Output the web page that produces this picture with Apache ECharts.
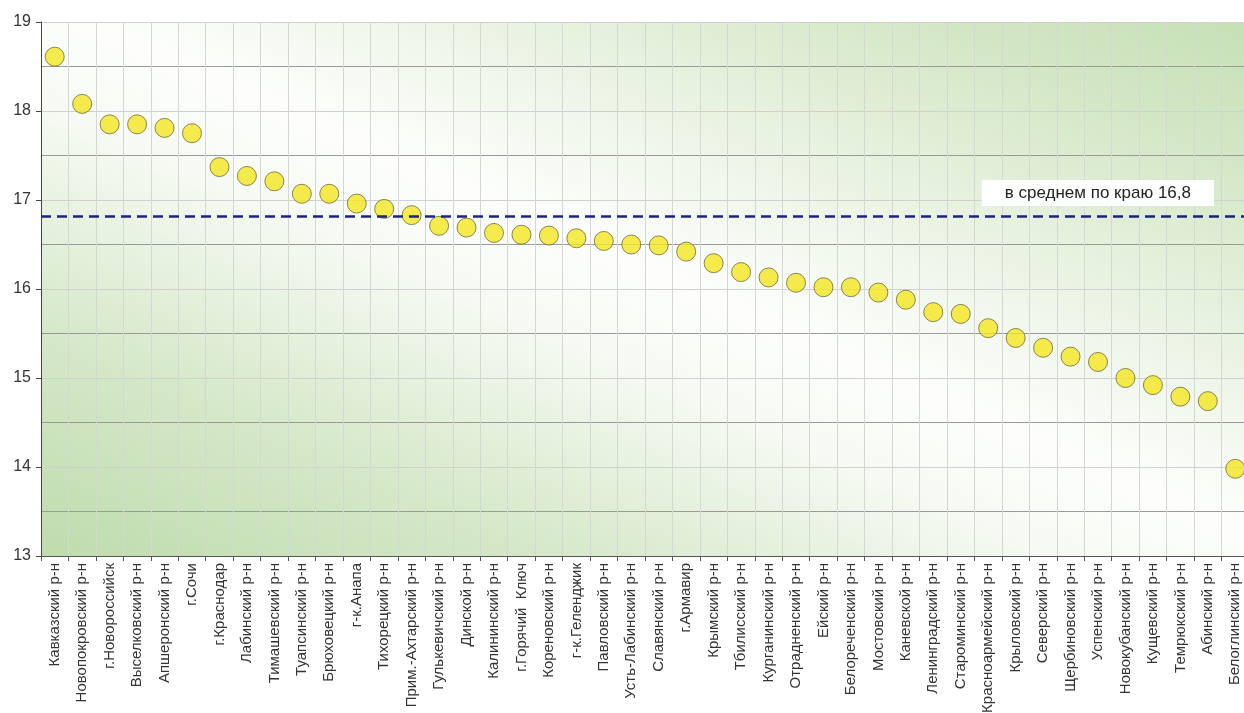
<!DOCTYPE html>
<html>
<head>
<meta charset="utf-8">
<script src="https://cdn.jsdelivr.net/npm/echarts@6/dist/echarts.min.js"></script>
<style>
html,body{margin:0;padding:0;background:#fff;}
#chart{width:1244px;height:713px;}
</style>
</head>
<body>
<div id="chart"></div>
<script>
const categories = [
  'Кавказский р-н','Новопокровский р-н','г.Новороссийск','Выселковский р-н','Апшеронский р-н','г.Сочи',
  'г.Краснодар','Лабинский р-н','Тимашевский р-н','Туапсинский р-н','Брюховецкий р-н','г-к.Анапа',
  'Тихорецкий р-н','Прим.-Ахтарский р-н','Гулькевичский р-н','Динской р-н','Калининский р-н','г.Горячий  Ключ',
  'Кореновский р-н','г-к.Геленджик','Павловский р-н','Усть-Лабинский р-н','Славянский р-н','г.Армавир',
  'Крымский р-н','Тбилисский р-н','Курганинский р-н','Отрадненский р-н','Ейский р-н','Белореченский р-н',
  'Мостовский р-н','Каневской р-н','Ленинградский р-н','Староминский р-н','Красноармейский р-н','Крыловский р-н',
  'Северский р-н','Щербиновский р-н','Успенский р-н','Новокубанский р-н','Кущевский р-н','Темрюкский р-н',
  'Абинский р-н','Белоглинский р-н'
];
const values = [
  18.61, 18.08, 17.85, 17.85, 17.81, 17.75,
  17.37, 17.27, 17.21, 17.07, 17.07, 16.96,
  16.90, 16.83, 16.71, 16.69, 16.63, 16.61,
  16.60, 16.57, 16.54, 16.50, 16.49, 16.42,
  16.29, 16.19, 16.13, 16.07, 16.02, 16.02,
  15.96, 15.88, 15.74, 15.72, 15.56, 15.45,
  15.34, 15.24, 15.18, 15.00, 14.92, 14.79,
  14.74, 13.98
];
const meanValue = 16.82;
const meanLabel = 'в среднем по краю 16,8';
const yMin = 13, yMax = 19;

const chart = echarts.init(document.getElementById('chart'), null, {renderer: 'canvas'});
chart.setOption({
  animation: false,
  backgroundColor: '#ffffff',
  grid: {
    left: 41, top: 22, width: 1208, bottom: 157,
    outerBoundsMode: 'none',
    containLabel: false,
    show: true, borderWidth: 0,
    backgroundColor: {
      type: 'linear', global: true,
      x: 449, y: 735, x2: 843, y2: -157,
      colorStops: [
        {offset: 0, color: '#bfdcad'},
        {offset: 0.22, color: '#d6e9ca'},
        {offset: 0.42, color: '#f6faf3'},
        {offset: 0.52, color: '#fdfefc'},
        {offset: 0.68, color: '#ebf4e4'},
        {offset: 0.85, color: '#d5e8c8'},
        {offset: 1, color: '#c6e0b5'}
      ]
    }
  },
  xAxis: {
    type: 'category',
    data: categories,
    boundaryGap: true,
    axisLine: {lineStyle: {color: '#555', width: 1}},
    axisTick: {show: true, length: 5, lineStyle: {color: '#555'}},
    axisLabel: {interval: 0, rotate: 90, fontSize: 15, color: '#333', margin: 7, fontFamily: 'Liberation Sans, Arial, sans-serif'},
    splitLine: {show: true, lineStyle: {color: '#d6d6d6', width: 1}}
  },
  yAxis: [{
    type: 'value', min: yMin, max: yMax, interval: 0.5,
    axisLine: {show: false},
    axisTick: {show: false},
    axisLabel: {show: false},
    splitLine: {show: true, lineStyle: {color: ['#d0d0d0', '#9a9a9a'], width: 1}}
  }, {
    type: 'value', min: yMin, max: yMax, interval: 1, position: 'left',
    axisLine: {show: true, lineStyle: {color: '#444', width: 1}},
    axisTick: {show: true, length: 5, lineStyle: {color: '#444'}},
    axisLabel: {fontSize: 16, color: '#333', margin: 10, fontFamily: 'Liberation Sans, Arial, sans-serif'},
    splitLine: {show: false}
  }],
  series: [{
    type: 'scatter',
    yAxisIndex: 1,
    data: values,
    symbol: 'circle',
    symbolSize: 19,
    itemStyle: {color: '#f4e620', borderColor: '#6e6a3c', borderWidth: 1},
    markLine: {
      silent: true,
      symbol: ['none', 'none'],
      lineStyle: {color: '#1a2478', type: [10, 6], width: 2.5},
      label: {
        show: true,
        position: 'insideEndTop',
        formatter: meanLabel,
        backgroundColor: '#ffffff',
        padding: [5, 23, 4, 23],
        fontSize: 17,
        color: '#222',
        fontFamily: 'Liberation Sans, Arial, sans-serif',
        distance: [35, 10]
      },
      data: [{yAxis: meanValue}]
    }
  }]
});
</script>
</body>
</html>
